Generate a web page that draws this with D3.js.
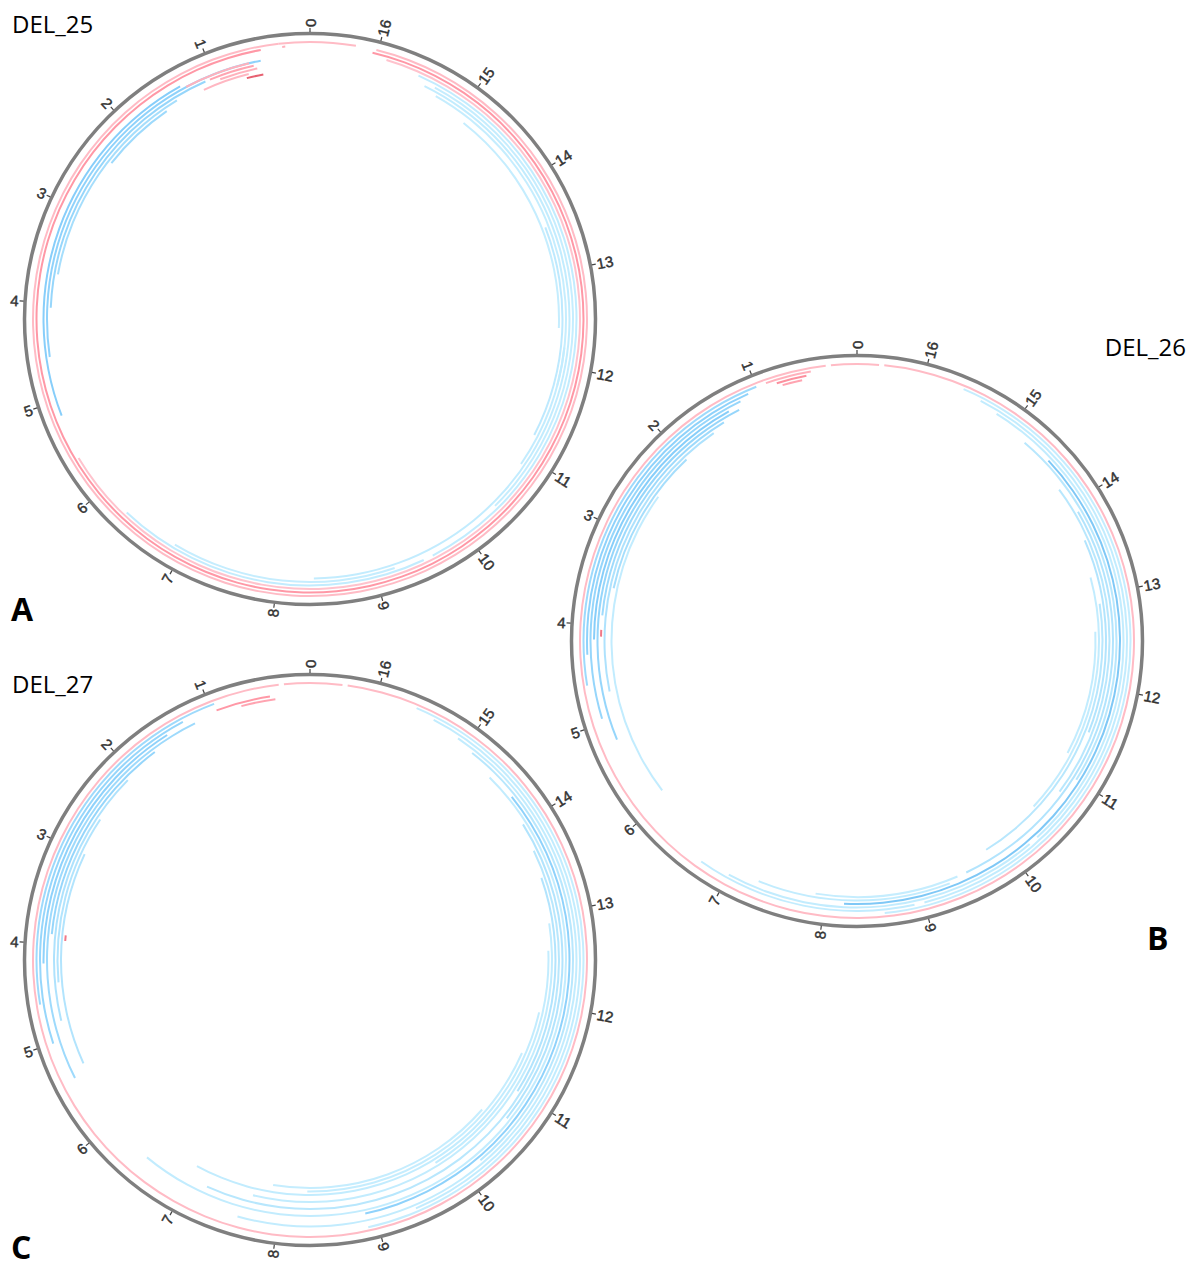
<!DOCTYPE html>
<html>
<head>
<meta charset="utf-8">
<script src="https://cdn.jsdelivr.net/npm/d3@7"></script>
<style>
  html, body { margin: 0; padding: 0; background: #fff; }
  svg { display: block; }
</style>
</head>
<body>
<svg id="chart" width="1197" height="1266"></svg>
<script>
// Genome length of the circular molecule, in kb
const genomeKb = 16.569;
const tickKb = d3.range(0, 17);
const tickLabels = tickKb.map(String);

// Each arc: [start kb, end kb, lane, level]
// "dup" arcs are drawn in reds, "del" arcs in blues; level sets the shade.
const dup25 = [
  [16.22, 0.30, 0, 0.22], [0.30, 16.02, 0, 0.22], [0.48, 16.05, 1, 0.50],
  [5.60, 15.90, 2, 0.15], [0.62, 1.30, 4, 0.30], [0.58, 1.05, 5, 0.40],
  [0.55, 0.95, 6, 0.30], [0.65, 1.15, 7, 0.25], [0.50, 0.68, 8, 0.85],
  [0.24, 0.27, 1, 0.30]
];
const del25 = [
  [1.35, 5.15, 3, 0.50], [0.50, 4.55, 4, 0.45], [1.10, 4.05, 5, 0.40],
  [1.45, 3.70, 6, 0.30], [1.60, 2.40, 7, 0.35],
  [8.37, 15.45, 5, 0.12], [11.23, 13.48, 7, 0.15], [9.60, 15.55, 3, 0.12],
  [10.40, 15.35, 4, 0.10], [11.80, 15.30, 6, 0.10], [12.40, 14.90, 8, 0.10],
  [10.90, 12.20, 6, 0.12], [6.32, 9.50, 3, 0.12], [6.90, 9.20, 4, 0.10]
];

const dup26 = [
  [0.30, 16.40, 0, 0.22], [16.45, 0.25, 0, 0.22], [0.45, 0.90, 1, 0.30],
  [0.50, 0.80, 2, 0.55], [0.55, 0.75, 3, 0.40], [4.05, 4.12, 6, 0.70]
];
const del26 = [
  [1.00, 4.60, 1, 0.35], [1.10, 4.30, 2, 0.45], [1.20, 4.95, 3, 0.40],
  [1.35, 4.15, 4, 0.50], [1.25, 5.20, 5, 0.40], [1.45, 3.90, 6, 0.35],
  [1.60, 4.70, 7, 0.25], [2.00, 3.60, 8, 0.30], [2.50, 5.90, 9, 0.12],
  [8.60, 15.60, 1, 0.10], [9.00, 15.40, 2, 0.12], [10.30, 15.20, 3, 0.12],
  [8.20, 14.50, 4, 0.55], [11.00, 14.80, 5, 0.18], [9.50, 13.90, 6, 0.22],
  [10.80, 14.20, 7, 0.18], [11.50, 13.60, 8, 0.22], [9.80, 12.90, 9, 0.18],
  [10.50, 13.20, 10, 0.12], [11.20, 12.60, 11, 0.12],
  [6.70, 8.90, 2, 0.12], [7.00, 10.20, 3, 0.12], [7.30, 9.30, 5, 0.12],
  [7.90, 9.40, 6, 0.10]
];

const dup27 = [
  [0.30, 16.30, 0, 0.22], [16.35, 0.25, 0, 0.22], [0.40, 0.95, 3, 0.50],
  [0.35, 0.70, 4, 0.40], [3.90, 3.96, 9, 0.70]
];
const del27 = [
  [0.95, 4.60, 1, 0.35], [1.30, 5.00, 2, 0.40], [1.50, 4.20, 3, 0.45],
  [1.20, 5.40, 4, 0.35], [1.70, 3.90, 5, 0.40], [2.10, 4.80, 6, 0.25],
  [2.60, 4.40, 7, 0.22], [3.00, 5.30, 8, 0.22],
  [8.90, 15.60, 1, 0.10], [9.40, 15.40, 2, 0.12], [7.60, 15.10, 3, 0.12],
  [10.20, 14.90, 4, 0.18], [8.90, 14.30, 5, 0.45], [6.50, 14.60, 6, 0.12],
  [10.70, 14.00, 7, 0.22], [7.20, 13.70, 8, 0.18], [11.00, 13.40, 9, 0.22],
  [7.70, 12.90, 10, 0.12], [9.80, 12.60, 11, 0.12], [7.00, 11.90, 12, 0.12],
  [8.30, 11.40, 13, 0.10], [7.90, 10.60, 14, 0.10]
];

const panelTitles = ["DEL_25", "DEL_26", "DEL_27"];
const panelLetters = ["A", "B", "C"];

const svg = d3.select("#chart");
svg.append("rect").attr("width", 1197).attr("height", 1266).attr("fill", "#fff");

const outerR = 285.5;
// The genome runs counter-clockwise from 12 o'clock over 358 degrees,
// leaving a small gap before the origin.
const span = 2 * Math.PI * 358 / 360;
const angle = d3.scaleLinear().domain([0, genomeKb]).range([0, -span]);
const laneR = d3.scaleLinear().domain([0, 1]).range([277, 273.5]);
const delColor = d3.scaleLinear().domain([0, 0.5, 1]).range(["#d4f5ff", "#87cefa", "#3a92d4"]);
const dupColor = d3.scaleLinear().domain([0, 0.5, 1]).range(["#ffd6dd", "#ff98a6", "#dc4a5a"]);

const endAngle = d => d.end < d.start ? angle(d.end) - 2 * Math.PI : angle(d.end);
const arcGen = d3.arc()
  .innerRadius(d => laneR(d.lane) - 1)
  .outerRadius(d => laneR(d.lane) + 1)
  .startAngle(d => angle(d.start))
  .endAngle(endAngle);

function toObjects(rows, kind) {
  return rows.map(([start, end, lane, level]) => ({ start, end, lane, level, kind }));
}

function drawPanel(cx, cy, dups, dels) {
  const g = svg.append("g").attr("transform", `translate(${cx},${cy})`);
  const arcs = toObjects(dels, "del").concat(toObjects(dups, "dup"));

  g.selectAll("path.seg").data(arcs).join("path")
    .attr("class", "seg")
    .attr("d", arcGen)
    .attr("fill", d => d.kind === "del" ? delColor(d.level) : dupColor(d.level));

  g.append("circle").attr("r", outerR)
    .attr("fill", "none").attr("stroke", "#7f7f7f").attr("stroke-width", 3.5);

  const deg = p => angle(p) * 180 / Math.PI;
  const flipped = p => {
    const a = ((deg(p) % 360) + 360) % 360;
    return a > 180.5;
  };
  g.selectAll("line.tick").data(tickKb).join("line")
    .attr("class", "tick")
    .attr("x1", outerR + 1.5).attr("x2", outerR + 5.5)
    .attr("transform", p => `rotate(${deg(p) - 90})`)
    .attr("stroke", "#444").attr("stroke-width", 1.2);

  g.selectAll("text.tl").data(tickKb).join("text")
    .attr("class", "tl")
    .attr("transform", p => `rotate(${deg(p) - 90}) translate(${outerR + 6.5},0)` + (flipped(p) ? " rotate(180)" : ""))
    .attr("text-anchor", p => flipped(p) ? "end" : "start")
    .attr("dominant-baseline", "central")
    .attr("font-family", "'Liberation Sans', Arial, sans-serif")
    .attr("font-size", 15)
    .attr("fill", "#333")
    .attr("stroke", "#333")
    .attr("stroke-width", 0.45)
    .text((p, i) => tickLabels[i]);
}

drawPanel(310, 319, dup25, del25);
drawPanel(857, 641, dup26, del26);
drawPanel(310, 960, dup27, del27);

const titleFont = "'Open Sans', 'Noto Sans', sans-serif";
const titles = [
  { t: panelTitles[0], x: 12, y: 33, anchor: "start" },
  { t: panelTitles[1], x: 1186, y: 356, anchor: "end" },
  { t: panelTitles[2], x: 12, y: 693, anchor: "start" }
];
svg.selectAll("text.title").data(titles).join("text")
  .attr("class", "title")
  .attr("x", d => d.x).attr("y", d => d.y)
  .attr("text-anchor", d => d.anchor)
  .attr("font-family", titleFont).attr("font-size", 24)
  .attr("fill", "#000").text(d => d.t);

const letters = [
  { t: panelLetters[0], x: 11, y: 621 },
  { t: panelLetters[1], x: 1147, y: 950 },
  { t: panelLetters[2], x: 11, y: 1259 }
];
svg.selectAll("text.letter").data(letters).join("text")
  .attr("class", "letter")
  .attr("x", d => d.x).attr("y", d => d.y)
  .attr("font-family", titleFont).attr("font-size", 32).attr("font-weight", 700)
  .attr("fill", "#000").text(d => d.t);
</script>
</body>
</html>
